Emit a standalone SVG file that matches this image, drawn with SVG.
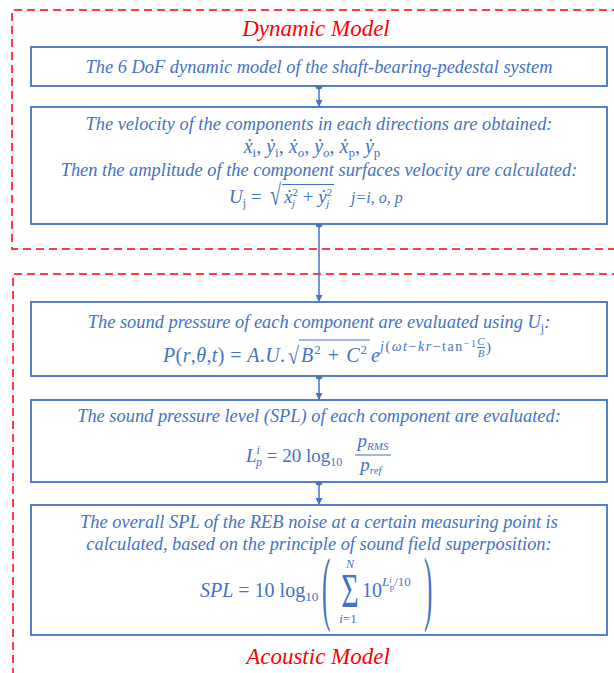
<svg xmlns="http://www.w3.org/2000/svg" width="614" height="673" viewBox="0 0 614 673">
<defs>
<style>
.bg{fill:#ffffff}
.grp{fill:none;stroke:#FF0000;stroke-width:1.5;stroke-dasharray:8,5}
.box{fill:#ffffff;stroke:#4472C4;stroke-width:1.8}
.t{font-family:"Liberation Serif","Times New Roman",serif;font-style:italic;font-size:18.4px;fill:#4472C4;text-anchor:middle}
.m{font-family:"Liberation Serif","Times New Roman",serif;fill:#4472C4}
.i{font-style:italic}
.title{font-family:"Liberation Serif","Times New Roman",serif;font-style:italic;font-size:23px;fill:#FF0000;text-anchor:middle}
.con{stroke:#4472C4;stroke-width:1.5;fill:none}
.dot{fill:#4472C4}
.ln{stroke:#4472C4;stroke-width:1.1}
</style>
<marker id="ah" viewBox="0 0 10 10" refX="10" refY="5" markerWidth="7" markerHeight="7" markerUnits="userSpaceOnUse" orient="auto">
<path d="M0,0 L10,5 L0,10 z" fill="#4472C4"/>
</marker>
</defs>
<rect class="bg" x="0" y="0" width="614" height="673"/>

<g id="dynamic-group">
<path class="grp" d="M620,10 H12 V249 H620"/>
<text class="title" x="316" y="36">Dynamic Model</text>
</g>
<g id="acoustic-group">
<path class="grp" d="M620,274 H13 V680"/>
<text class="title" x="318" y="664">Acoustic Model</text>
</g>

<g id="connectors">
<line class="con" x1="319" y1="86" x2="319" y2="107" marker-end="url(#ah)"/>
<circle class="dot" cx="319" cy="86" r="3.5"/>
<line class="con" x1="319" y1="224" x2="319" y2="302" marker-end="url(#ah)"/>
<circle class="dot" cx="319" cy="224" r="3.5"/>
<line class="con" x1="319" y1="376" x2="319" y2="400" marker-end="url(#ah)"/>
<circle class="dot" cx="319" cy="376" r="3.5"/>
<line class="con" x1="319" y1="482" x2="319" y2="505" marker-end="url(#ah)"/>
<circle class="dot" cx="319" cy="482" r="3.5"/>
</g>

<g id="node1">
<rect class="box" x="31" y="47" width="576" height="39"/>
<text class="t" x="319" y="73">The 6 DoF dynamic model of the shaft-bearing-pedestal system</text>
</g>

<g id="node2">
<rect class="box" x="31" y="107" width="576" height="117"/>
<text class="t" x="319" y="130">The velocity of the components in each directions are obtained:</text>
<text class="m" x="312" y="153" font-size="20" text-anchor="middle"><tspan class="i">ẋ</tspan><tspan font-size="13" dy="4">i</tspan><tspan dy="-4">, </tspan><tspan class="i">ẏ</tspan><tspan font-size="13" dy="4">i</tspan><tspan dy="-4">, </tspan><tspan class="i">ẋ</tspan><tspan font-size="13" dy="4" class="i">o</tspan><tspan dy="-4">, </tspan><tspan class="i">ẏ</tspan><tspan font-size="13" dy="4" class="i">o</tspan><tspan dy="-4">, </tspan><tspan class="i">ẋ</tspan><tspan font-size="13" dy="4">p</tspan><tspan dy="-4">, </tspan><tspan class="i">ẏ</tspan><tspan font-size="13" dy="4">p</tspan></text>
<text class="t" x="319" y="176">Then the amplitude of the component surfaces velocity are calculated:</text>
<text class="m" x="229" y="203" font-size="19"><tspan class="i">U</tspan><tspan font-size="12" dy="4">j</tspan><tspan dy="-4"> =</tspan></text>
<text class="m" x="0" y="0" font-size="20" transform="translate(270,205) scale(1,1.45)">√</text>
<line class="ln" x1="282" y1="184.5" x2="334" y2="184.5"/>
<text class="m" x="284" y="203" font-size="19"><tspan class="i">ẋ</tspan><tspan font-size="11" dy="-7">2</tspan><tspan font-size="11" dx="-6" dy="11" class="i">j</tspan><tspan dy="-4" dx="3"> + </tspan><tspan class="i">ẏ</tspan><tspan font-size="11" dy="-7">2</tspan><tspan font-size="11" dx="-6" dy="11" class="i">j</tspan></text>
<text class="m i" x="351" y="203" font-size="16">j=i, o, p</text>
</g>

<g id="node3">
<rect class="box" x="31" y="302" width="576" height="74"/>
<text class="t" x="319" y="328">The sound pressure of each component are evaluated using <tspan>U</tspan><tspan font-size="12" dy="4" font-style="normal">j</tspan><tspan dy="-4">:</tspan></text>
<text class="m" x="163" y="362" font-size="20" textLength="122" lengthAdjust="spacing"><tspan class="i">P</tspan>(<tspan class="i">r</tspan>,<tspan class="i">θ</tspan>,<tspan class="i">t</tspan>) = <tspan class="i">A</tspan>.<tspan class="i">U</tspan>.</text>
<text class="m" x="0" y="0" font-size="20" transform="translate(288,364) scale(1,1.2)">√</text>
<line class="ln" x1="299" y1="340" x2="370" y2="340"/>
<text class="m" x="301" y="362" font-size="20" textLength="66" lengthAdjust="spacing"><tspan class="i">B</tspan><tspan font-size="13" dy="-8">2</tspan><tspan dy="8"> + </tspan><tspan class="i">C</tspan><tspan font-size="13" dy="-8">2</tspan></text>
<text class="m i" x="371" y="362" font-size="20">e</text>
<text class="m" x="380" y="351" font-size="14" textLength="96" lengthAdjust="spacing"><tspan class="i">j</tspan>(<tspan class="i">ωt</tspan>−<tspan class="i">kr</tspan>−tan<tspan font-size="10" dy="-4">−1</tspan></text>
<text class="m i" x="481" y="345" font-size="11" text-anchor="middle">C</text>
<line class="ln" x1="477" y1="347.5" x2="485" y2="347.5" stroke-width="0.7"/>
<text class="m i" x="481" y="356.5" font-size="11" text-anchor="middle">B</text>
<text class="m" x="486" y="352" font-size="15">)</text>
</g>

<g id="node4">
<rect class="box" x="31" y="400" width="576" height="82"/>
<text class="t" x="319" y="422">The sound pressure level (SPL) of each component are evaluated:</text>
<text class="m" x="246" y="462" font-size="19"><tspan class="i">L</tspan><tspan font-size="12" dy="-8" class="i">i</tspan><tspan font-size="12" dx="-4" dy="12" class="i">p</tspan><tspan dy="-4"> = 20 log</tspan><tspan font-size="12" dy="4">10</tspan></text>
<text class="m i" x="373" y="447" font-size="19" text-anchor="middle"><tspan>p</tspan><tspan font-size="11" dy="3">RMS</tspan></text>
<line class="ln" x1="355" y1="455" x2="391" y2="455"/>
<text class="m i" x="371" y="471" font-size="19" text-anchor="middle"><tspan>p</tspan><tspan font-size="11" dy="3">ref</tspan></text>
</g>

<g id="node5">
<rect class="box" x="31" y="505" width="576" height="130"/>
<text class="t" x="319" y="528">The overall SPL of the REB noise at a certain measuring point is</text>
<text class="t" x="319" y="550">calculated, based on the principle of sound field superposition:</text>
<text class="m" x="200" y="597" font-size="20"><tspan class="i">SPL</tspan> = 10 log<tspan font-size="13" dy="4">10</tspan></text>
<text class="m" x="0" y="0" font-size="25" transform="translate(322,615) scale(1,3.3)">(</text>
<text class="m" x="0" y="0" font-size="25" transform="translate(424,615) scale(1,3.3)">)</text>
<text class="m i" x="350" y="568" font-size="12" text-anchor="middle">N</text>
<text class="m" x="0" y="0" font-size="30" text-anchor="middle" transform="translate(350,607) scale(1,1.6)">Σ</text>
<text class="m" x="348" y="623" font-size="13" text-anchor="middle"><tspan class="i">i</tspan>=1</text>
<text class="m" x="362" y="597" font-size="20"><tspan>10</tspan><tspan font-size="13" dy="-11" class="i">L</tspan><tspan font-size="9" dy="-3" class="i">i</tspan><tspan font-size="9" dx="-2" dy="7">p</tspan><tspan font-size="13" dy="-4">/10</tspan></text>
</g>
</svg>
